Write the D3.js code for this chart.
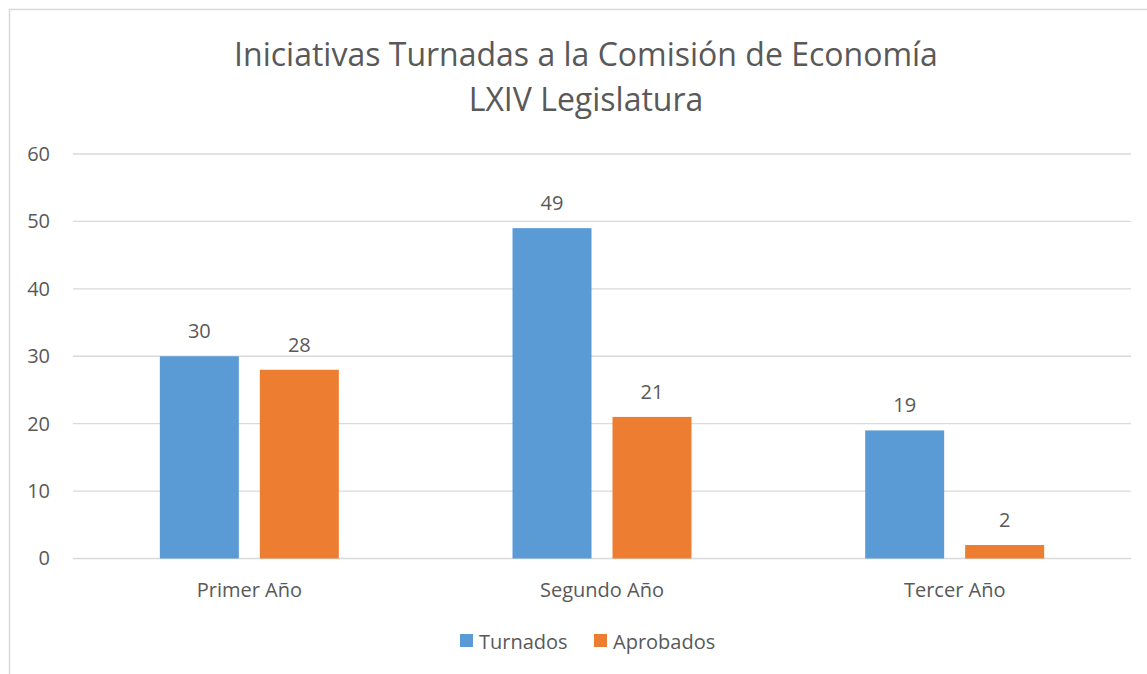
<!DOCTYPE html>
<html>
<head>
<meta charset="utf-8">
<script src="https://cdn.jsdelivr.net/npm/d3@7"></script>
<style>
  body { margin: 0; background: #fff; }
  text { font-family: "Open Sans", sans-serif; fill: #595959; }
</style>
</head>
<body>
<div id="chart"></div>
<script>
// data
var categories = ['Primer Año', 'Segundo Año', 'Tercer Año'];
var series = ['Turnados', 'Aprobados'];
var turnados = [30, 49, 19];
var aprobados = [28, 21, 2];
var y_ticks = [0, 10, 20, 30, 40, 50, 60];
var title_lines = ['Iniciativas Turnadas a la Comisión de Economía', 'LXIV Legislatura'];

var chart_width = 1147;
var chart_height = 674;
var colors = { 'Turnados': '#5B9BD5', 'Aprobados': '#ED7D31' };

var svg = d3.select('#chart')
    .append('svg')
    .attr('width', chart_width)
    .attr('height', chart_height);

// outer frame
svg.append('rect')
    .attr('x', 9.5)
    .attr('y', 9.5)
    .attr('width', chart_width + 20)
    .attr('height', chart_height + 20)
    .attr('fill', 'none')
    .attr('stroke', '#D9D9D9')
    .attr('stroke-width', 1.5);

// title
svg.selectAll('.title')
    .data(title_lines)
    .enter()
    .append('text')
    .attr('class', 'title')
    .attr('x', 586)
    .attr('y', function(d, i){ return 66 + i * 45; })
    .attr('text-anchor', 'middle')
    .style('font-size', '32px')
    .text(function(d){ return d; });

// scales
var x0 = d3.scaleBand()
    .domain(categories)
    .range([73, 1131]);

var x1 = d3.scaleBand()
    .domain(series)
    .range([0, x0.bandwidth()])
    .paddingInner(0.21)
    .paddingOuter(0.8685);

var y = d3.scaleLinear()
    .domain([0, 60])
    .range([558.5, 154]);

// gridlines
svg.append('g')
    .selectAll('line')
    .data(y_ticks)
    .enter()
    .append('line')
    .attr('x1', 73)
    .attr('x2', 1131)
    .attr('y1', function(d){ return y(d); })
    .attr('y2', function(d){ return y(d); })
    .attr('stroke', '#D9D9D9')
    .attr('stroke-width', 1.3);

// y axis labels
var y_axis = d3.axisLeft(y)
    .tickValues(y_ticks)
    .tickSize(0)
    .tickPadding(0);

var y_g = svg.append('g')
    .attr('transform', 'translate(50,0)')
    .call(y_axis);
y_g.select('.domain').remove();
y_g.selectAll('text')
    .style('font-size', '20px')
    .style('font-family', '"Open Sans", sans-serif')
    .attr('fill', '#595959');

// x axis labels
var x_axis = d3.axisBottom(x0)
    .tickSize(0)
    .tickPadding(0);

var x_g = svg.append('g')
    .attr('transform', 'translate(0,583)')
    .call(x_axis);
x_g.select('.domain').remove();
x_g.selectAll('text')
    .style('font-size', '20px')
    .style('font-family', '"Open Sans", sans-serif')
    .attr('fill', '#595959');

// bars
var rows = categories.map(function(c, i){
    return { category: c, values: [
        { key: 'Turnados', value: turnados[i] },
        { key: 'Aprobados', value: aprobados[i] }
    ]};
});

var groups = svg.selectAll('.group')
    .data(rows)
    .enter()
    .append('g')
    .attr('class', 'group')
    .attr('transform', function(d){ return 'translate(' + x0(d.category) + ',0)'; });

groups.selectAll('rect')
    .data(function(d){ return d.values; })
    .enter()
    .append('rect')
    .attr('x', function(d){ return x1(d.key); })
    .attr('y', function(d){ return y(d.value); })
    .attr('width', x1.bandwidth())
    .attr('height', function(d){ return y(0) - y(d.value); })
    .attr('fill', function(d){ return colors[d.key]; });

groups.selectAll('.label')
    .data(function(d){ return d.values; })
    .enter()
    .append('text')
    .attr('class', 'label')
    .attr('x', function(d){ return x1(d.key) + x1.bandwidth() / 2; })
    .attr('y', function(d){ return y(d.value) - 18; })
    .attr('text-anchor', 'middle')
    .style('font-size', '20px')
    .text(function(d){ return d.value; });

// legend
var legend = svg.append('g')
    .selectAll('g')
    .data(series)
    .enter()
    .append('g')
    .attr('transform', function(d, i){ return 'translate(' + (460 + i * 134) + ',634)'; });

legend.append('rect')
    .attr('width', 13)
    .attr('height', 13)
    .attr('fill', function(d){ return colors[d]; });

legend.append('text')
    .attr('x', 19)
    .attr('y', 15)
    .style('font-size', '20px')
    .text(function(d){ return d; });
</script>
</body>
</html>
